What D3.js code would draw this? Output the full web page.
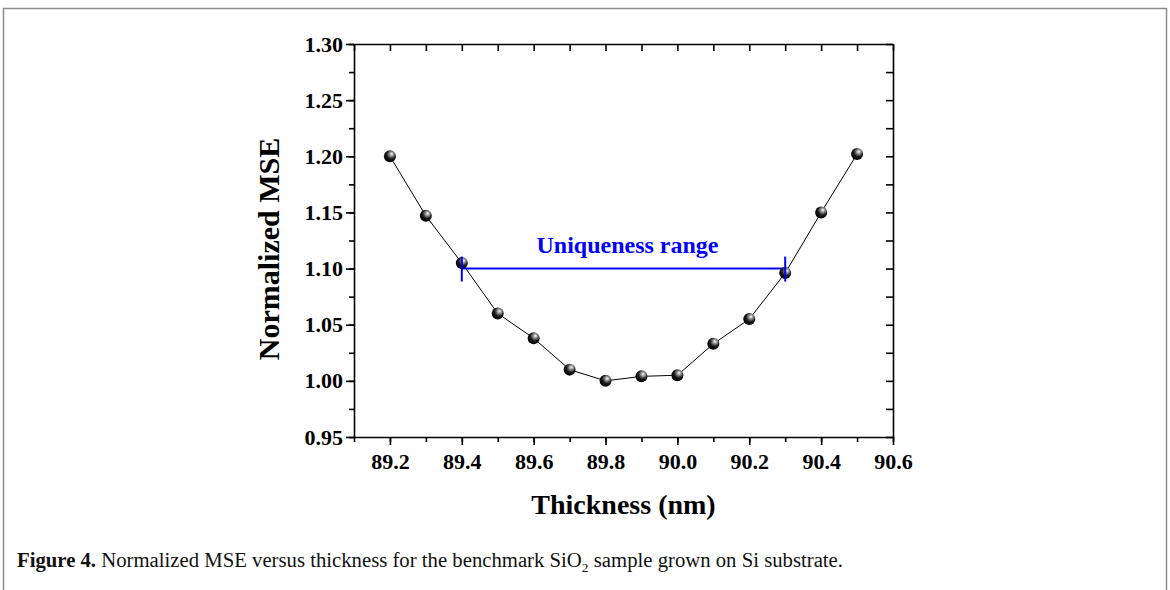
<!DOCTYPE html>
<html>
<head>
<meta charset="utf-8">
<script src="https://cdn.jsdelivr.net/npm/d3@7"></script>
<style>
  body { margin: 0; background: #fff; }
  svg { display: block; }
  .tick text { font-family: "Liberation Serif", "Times New Roman", serif; font-weight: bold; font-size: 22px; fill: #000; }
</style>
</head>
<body>
<script>
// thickness (nm) vs normalized MSE
var thickness = [89.2, 89.3, 89.4, 89.5, 89.6, 89.7, 89.8, 89.9, 90.0, 90.1, 90.2, 90.3, 90.4, 90.5];
var mse = [1.200, 1.147, 1.105, 1.060, 1.038, 1.010, 1.000, 1.004, 1.005, 1.033, 1.055, 1.096, 1.150, 1.202];
var rangeEnds = [89.4, 90.3];
var rangeLevel = 1.10;
var xTicks = [89.2, 89.4, 89.6, 89.8, 90.0, 90.2, 90.4, 90.6];
var yTicks = [0.95, 1.00, 1.05, 1.10, 1.15, 1.20, 1.25, 1.30];

var w = 1170, h = 590;
var svg = d3.select("body").append("svg")
    .attr("width", w)
    .attr("height", h);

// page frame
svg.append("path")
    .attr("d", "M3.5," + h + "V8.5H1166.5V" + h)
    .attr("fill", "none")
    .attr("stroke", "#8a8a8a")
    .attr("stroke-width", 1.5);

var pl = 354, pr = 893, pt = 44, pb = 437;

var x = d3.scaleLinear().domain([89.1, 90.6]).range([pl, pr]);
var y = d3.scaleLinear().domain([0.95, 1.30]).range([pb, pt]);

var minorX = d3.range(89.1, 90.65, 0.1).map(function(d) { return +d.toFixed(1); });
var minorY = d3.range(0.95, 1.3001, 0.025).map(function(d) { return +d.toFixed(3); });

// minor ticks (no labels)
svg.append("g")
    .attr("transform", "translate(0," + pb + ")")
    .call(d3.axisBottom(x).tickValues(minorX).tickSize(5).tickFormat(""))
    .call(function(g) { g.select(".domain").remove(); });
svg.append("g")
    .attr("transform", "translate(" + pl + ",0)")
    .call(d3.axisLeft(y).tickValues(minorY).tickSize(5).tickFormat(""))
    .call(function(g) { g.select(".domain").remove(); });

// major axes
svg.append("g")
    .attr("transform", "translate(0," + pb + ")")
    .call(d3.axisBottom(x).tickValues(xTicks).tickSize(8).tickSizeOuter(0).tickPadding(8).tickFormat(d3.format(".1f")));
svg.append("g")
    .attr("transform", "translate(" + pl + ",0)")
    .call(d3.axisLeft(y).tickValues(yTicks).tickSize(8).tickSizeOuter(0).tickPadding(3).tickFormat(d3.format(".2f")));

// top / right mirrors, ticks inward
svg.append("g")
    .attr("transform", "translate(0," + pt + ")")
    .call(d3.axisBottom(x).tickValues(minorX).tickSize(7).tickSizeOuter(0).tickFormat(""));
svg.append("g")
    .attr("transform", "translate(" + pr + ",0)")
    .call(d3.axisLeft(y).tickValues(minorY).tickSize(7).tickSizeOuter(0).tickFormat(""));

svg.selectAll(".domain, .tick line").attr("stroke", "#000").attr("stroke-width", 1.6);

// axis titles
svg.append("text")
    .attr("x", (pl + pr) / 2)
    .attr("y", 514)
    .attr("text-anchor", "middle")
    .style("font-family", "Liberation Serif, Times New Roman, serif")
    .style("font-weight", "bold")
    .style("font-size", "28px")
    .text("Thickness (nm)");
svg.append("text")
    .attr("transform", "translate(279,249) rotate(-90)")
    .attr("text-anchor", "middle")
    .style("font-family", "Liberation Serif, Times New Roman, serif")
    .style("font-weight", "bold")
    .style("font-size", "30px")
    .text("Normalized MSE");

// ball marker gradient
var grad = svg.append("defs").append("radialGradient")
    .attr("id", "ball")
    .attr("cx", "60%").attr("cy", "35%").attr("r", "65%")
    .attr("fx", "65%").attr("fy", "30%");
grad.append("stop").attr("offset", "0%").attr("stop-color", "#ffffff");
grad.append("stop").attr("offset", "25%").attr("stop-color", "#9a9a9a");
grad.append("stop").attr("offset", "60%").attr("stop-color", "#1a1a1a");
grad.append("stop").attr("offset", "100%").attr("stop-color", "#000");

var pts = thickness.map(function(t, i) { return [t, mse[i]]; });

svg.append("path")
    .datum(pts)
    .attr("fill", "none")
    .attr("stroke", "#000")
    .attr("stroke-width", 1)
    .attr("d", d3.line().x(function(d) { return x(d[0]); }).y(function(d) { return y(d[1]); }));

// uniqueness range bar
var ry = y(rangeLevel);
svg.append("line")
    .attr("x1", x(rangeEnds[0])).attr("x2", x(rangeEnds[1]))
    .attr("y1", ry).attr("y2", ry)
    .attr("stroke", "#0000ff").attr("stroke-width", 2);

svg.selectAll("circle.pt")
    .data(pts)
  .enter().append("circle")
    .attr("class", "pt")
    .attr("cx", function(d) { return x(d[0]); })
    .attr("cy", function(d) { return y(d[1]); })
    .attr("r", 6)
    .attr("fill", "url(#ball)");

svg.selectAll("line.cap")
    .data(rangeEnds)
  .enter().append("line")
    .attr("class", "cap")
    .attr("x1", function(d) { return x(d); }).attr("x2", function(d) { return x(d); })
    .attr("y1", ry - 12).attr("y2", ry + 13)
    .attr("stroke", "#0000ff").attr("stroke-width", 2);

svg.append("text")
    .attr("x", (x(rangeEnds[0]) + x(rangeEnds[1])) / 2 + 4)
    .attr("y", 253)
    .attr("text-anchor", "middle")
    .attr("fill", "#0000ff")
    .style("font-family", "Liberation Serif, Times New Roman, serif")
    .style("font-weight", "bold")
    .style("font-size", "24px")
    .text("Uniqueness range");

// caption
var cap = svg.append("text")
    .attr("x", 17)
    .attr("y", 567)
    .attr("textLength", 826)
    .attr("lengthAdjust", "spacingAndGlyphs")
    .style("font-family", "Liberation Serif, Times New Roman, serif")
    .style("font-size", "20px")
    .attr("fill", "#111");
cap.append("tspan").style("font-weight", "bold").text("Figure 4.");
cap.append("tspan").text(" Normalized MSE versus thickness for the benchmark SiO");
cap.append("tspan").attr("dy", 5).style("font-size", "13px").text("2");
cap.append("tspan").attr("dy", -5).text(" sample grown on Si substrate.");
</script>
</body>
</html>
